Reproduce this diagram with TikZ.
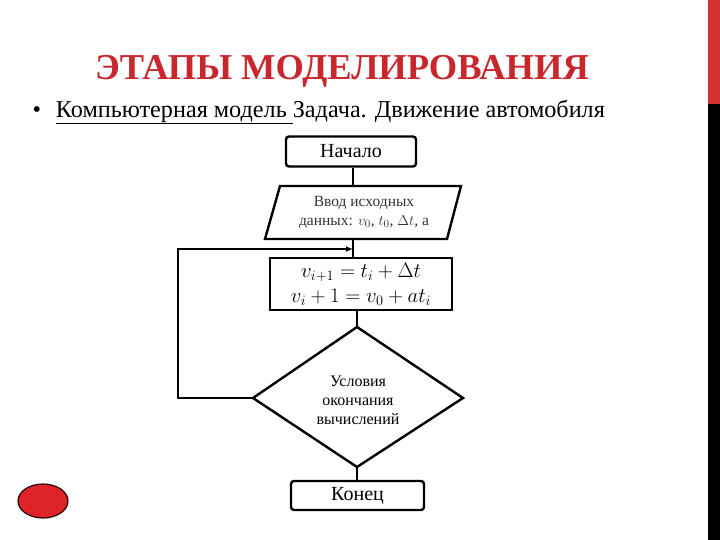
\documentclass[tikz,border=0pt]{standalone}
\usepackage{fontspec}
\setmainfont{Liberation Serif}
\usetikzlibrary{arrows.meta}
\definecolor{titlered}{RGB}{200,40,45}
\definecolor{barred}{RGB}{210,50,50}
\definecolor{dotred}{RGB}{222,36,40}
\tikzset{
  flow/.style={draw=black,line width=2.4pt},
  rbox/.style={flow,rounded corners=3pt,minimum width=130pt,minimum height=30pt,font=\fontsize{20}{22}\selectfont},
  conn/.style={line width=2.4pt},
}
\begin{document}
\begin{tikzpicture}[x=1pt,y=-1pt]
\useasboundingbox (0,0) rectangle (720,540);
% right bar
\fill[barred] (708,0) rectangle (720,104);
\fill[black] (708,104) rectangle (720,540);
% title
\node[font=\fontsize{36.5}{40}\selectfont\bfseries, text=titlered] (title) at (342,71) {ЭТАПЫ МОДЕЛИРОВАНИЯ};
\node[anchor=west,font=\fontsize{24.2}{27}\selectfont] (bullet) at (29,112) {•\hspace{15pt}\underline{Компьютерная модель }Задача. Движение автомобиля};
% flowchart
\node[rbox] (start) at (351,151.5) {Начало};
\coordinate (p1) at (280,186);
\coordinate (p2) at (461,186);
\coordinate (p3) at (447,239);
\coordinate (p4) at (265,239);
\draw[flow,line join=miter] (p1) -- (p2) -- (p3) -- (p4) -- cycle;
\node[align=center,font=\fontsize{15.5}{19}\selectfont,text=black!80] (input) at (364,212.5) {Ввод исходных\\данных: $v_0$, $t_0$, $\Delta t$, a};
\node[flow,minimum width=182pt,minimum height=52pt,align=center,font=\fontsize{20}{25}\selectfont] (calc) at (361,284) {$v_{i+1}=t_i+\Delta t$\\$v_i+1=v_0+at_i$};
\coordinate (dt) at (357,327);
\coordinate (dl) at (253,398);
\coordinate (dr) at (463,398);
\coordinate (db) at (357,467);
\draw[flow,line join=miter] (dt) -- (dr) -- (db) -- (dl) -- cycle;
\node[align=center,font=\fontsize{16}{19}\selectfont] (cond) at (358,400) {Условия\\окончания\\вычислений};
\node[rbox,minimum width=133pt,minimum height=29pt] (end) at (357.5,495.5) {Конец};
% connectors
\coordinate (inbot) at (353,239);
\coordinate (join) at (353,249);
\coordinate (calctop) at (353,258);
\coordinate (lp1) at (178,398);
\coordinate (lp2) at (178,249);
\draw[conn] (inbot) -- (calctop);
\draw[conn] (start.south -| inbot) -- (inbot |- p1);
\draw[conn] (calc.south -| dt) -- (dt);
\draw[conn] (db) -- (end.north -| db);
\draw[conn,-{Latex[length=7pt,width=6pt]}] (dl) -- (lp1) -- (lp2) -- (join);
% red circle
\draw[fill=dotred,draw=black!85!red,line width=1.2pt] (43,501) ellipse (25 and 17);
\end{tikzpicture}
\end{document}
